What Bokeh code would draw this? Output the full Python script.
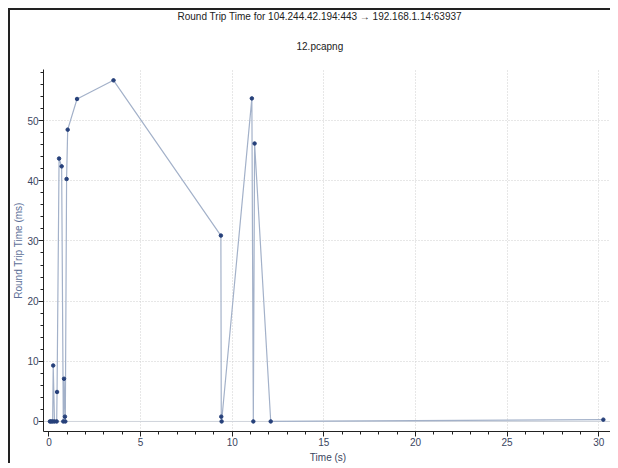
from bokeh.plotting import figure
from bokeh.models import Range1d, FixedTicker, Title, Span
from bokeh.embed import file_html
from bokeh.resources import INLINE

# data (time in s, round trip time in ms)
time_s = [0.05, 0.12, 0.20, 0.23, 0.30, 0.42, 0.44, 0.55, 0.69, 0.78, 0.82, 0.87, 0.89,
          0.96, 1.02, 1.53, 3.52, 9.38, 9.40, 9.42, 11.07, 11.15, 11.22, 12.10, 30.25]
rtt_ms = [0, 0, 0, 9.3, 0, 0, 4.9, 43.7, 42.4, 0, 7.1, 0.8, 0,
          40.3, 48.5, 53.6, 56.7, 30.9, 0.8, 0, 53.7, 0, 46.2, 0, 0.3]
x_ticks = [0, 5, 10, 15, 20, 25, 30]
y_ticks = [0, 10, 20, 30, 40, 50]
x_minor = [t + i for t in range(0, 31, 5) for i in range(1, 5)] + [-1]
y_minor = [t + i for t in range(0, 60, 10) for i in (2, 4, 6, 8)]

title_text = "Round Trip Time for 104.244.42.194:443 \u2192 192.168.1.14:63937"
subtitle_text = "12.pcapng"

FONT = "Liberation Sans"

p = figure(width=602, height=455, output_backend="svg", toolbar_location=None,
           x_range=Range1d(-0.3, 30.75), y_range=Range1d(-1.67, 58.5),
           min_border_left=33, min_border_right=0, min_border_bottom=29, min_border_top=0)
p.margin = (8, 0, 0, 8)
p.outline_line_color = None
p.background_fill_color = "white"
p.border_fill_color = "white"

sub = Title(text=subtitle_text, align="left", offset=253, vertical_align="top",
            text_font=FONT, text_font_size="10px", text_font_style="normal",
            text_color="#222222", standoff=32)
main = Title(text=title_text, align="left", offset=134, vertical_align="top",
             text_font=FONT, text_font_size="10px", text_font_style="normal",
             text_color="#222222", standoff=1)
p.add_layout(sub, "above")
p.add_layout(main, "above")

p.add_layout(Span(location=0, dimension="width", line_color="#cfd3da", line_width=1,
                  level="underlay"))

p.line(time_s, rtt_ms, line_color="#a3b1c9", line_width=1.2)
p.scatter(time_s, rtt_ms, size=3.5, fill_color="#26407a", line_color="#26407a")

for ax in (p.xaxis[0], p.yaxis[0]):
    ax.axis_line_color = "#222222"
    ax.major_tick_line_color = "#222222"
    ax.minor_tick_line_color = "#222222"
    ax.major_tick_out = 5
    ax.major_tick_in = 0
    ax.minor_tick_out = 3
    ax.minor_tick_in = 0
    ax.major_label_text_font = FONT
    ax.major_label_text_font_size = "10px"
    ax.major_label_text_color = "#3a4560"
    ax.axis_label_text_font = FONT
    ax.axis_label_text_font_size = "10px"
    ax.axis_label_text_font_style = "normal"

p.xaxis.major_label_standoff = 1
p.xaxis.axis_label_standoff = 3
p.yaxis.major_label_standoff = 0
p.yaxis.axis_label_standoff = 0

p.xaxis.ticker = FixedTicker(ticks=x_ticks, minor_ticks=x_minor)
p.yaxis.ticker = FixedTicker(ticks=y_ticks, minor_ticks=y_minor)
p.xaxis.axis_label = "Time (s)"
p.xaxis.axis_label_text_color = "#3a4560"
p.yaxis.axis_label = "Round Trip Time (ms)"
p.yaxis.axis_label_text_color = "#5d6f97"

p.xgrid.ticker = FixedTicker(ticks=x_ticks[1:])
p.ygrid.ticker = FixedTicker(ticks=y_ticks[1:])
for g in (p.xgrid[0], p.ygrid[0]):
    g.grid_line_color = "#cfcfcf"
    g.grid_line_dash = "1 2"
    g.grid_line_width = 1

p.styles = {"border-top": "2px solid #222222", "border-left": "2px solid #222222"}

open("out.html", "w").write(file_html(p, INLINE))
